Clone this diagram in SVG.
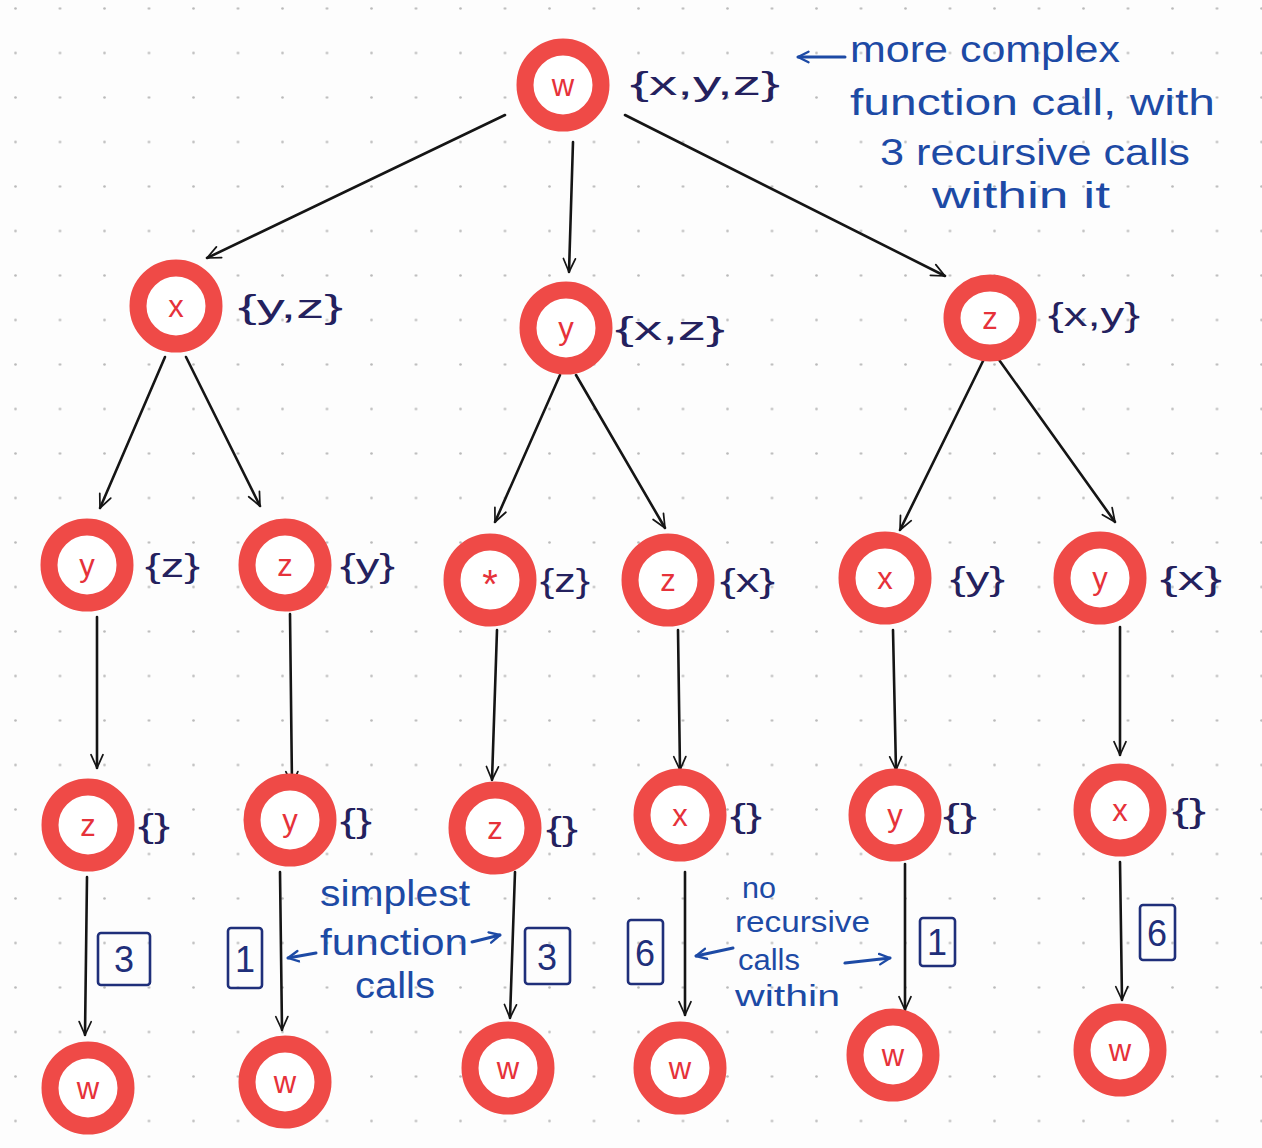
<svg xmlns="http://www.w3.org/2000/svg" width="1262" height="1148" viewBox="0 0 1262 1148">
  <defs>
    <pattern id="dots" x="14" y="7" width="44.5" height="44.5" patternUnits="userSpaceOnUse">
      <circle cx="1.5" cy="1.5" r="1.3" fill="#b9b9b9"/>
    </pattern>
    <marker id="arr" viewBox="0 0 12 12" refX="11" refY="6" markerWidth="16" markerHeight="16" orient="auto" markerUnits="userSpaceOnUse">
      <path d="M1,1.5 L11,6 L1,10.5" fill="none" stroke="#151515" stroke-width="1.3" stroke-linecap="round" stroke-linejoin="round"/>
    </marker>
    <marker id="barr" viewBox="0 0 12 12" refX="10" refY="6" markerWidth="14" markerHeight="14" orient="auto" markerUnits="userSpaceOnUse">
      <path d="M1,1.5 L10,6 L1,10.5" fill="none" stroke="#1d4aa5" stroke-width="2" stroke-linecap="round" stroke-linejoin="round"/>
    </marker>
    <style>
      .ring { fill: #ffffff; stroke: #ef4a47; stroke-width: 17; }
      .let { font-family: "Liberation Sans", Arial, sans-serif; font-size: 31px; fill: #e6323a; text-anchor: middle; }
      .set { font-family: "Liberation Sans", Arial, sans-serif; font-size: 34px; fill: #24215e; }
      .note { font-family: "Liberation Sans", Arial, sans-serif; font-size: 36px; fill: #1d4aa5; }
      .small { font-size: 30px; }
      .edge { fill: none; stroke: #151515; stroke-width: 2.6; stroke-linecap: round; marker-end: url(#arr); }
      .bline { fill: none; stroke: #1d4aa5; stroke-width: 3; stroke-linecap: round; marker-end: url(#barr); }
      .box { fill: none; stroke: #1f2f7a; stroke-width: 2.6; }
      .num { font-family: "Liberation Sans", Arial, sans-serif; font-size: 36px; fill: #1f2f7a; text-anchor: middle; }
    </style>
  </defs>

  <!-- dotted notebook paper -->
  <rect width="1262" height="1148" fill="#fdfdfd"/>
  <rect width="1262" height="1148" fill="url(#dots)"/>

  <!-- call edges -->
  <g id="connectors">
    <path class="edge" d="M505,115 L207,258"/>
    <path class="edge" d="M573,142 L569,272"/>
    <path class="edge" d="M625,115 L945,276"/>

    <path class="edge" d="M165,357 L100,508"/>
    <path class="edge" d="M186,357 L260,506"/>
    <path class="edge" d="M560,375 L495,522"/>
    <path class="edge" d="M576,375 L665,528"/>
    <path class="edge" d="M985,357 L900,530"/>
    <path class="edge" d="M997,357 L1115,522"/>

    <path class="edge" d="M97,617 L97,768"/>
    <path class="edge" d="M290,614 L292,785"/>
    <path class="edge" d="M497,630 L492,780"/>
    <path class="edge" d="M678,630 L680,770"/>
    <path class="edge" d="M893,630 L896,770"/>
    <path class="edge" d="M1120,627 L1120,755"/>

    <path class="edge" d="M87,877 L85,1035"/>
    <path class="edge" d="M280,872 L282,1030"/>
    <path class="edge" d="M515,872 L510,1018"/>
    <path class="edge" d="M685,872 L685,1015"/>
    <path class="edge" d="M905,864 L905,1010"/>
    <path class="edge" d="M1120,862 L1122,1000"/>
  </g>

  <!-- root call -->
  <g id="n-w0"><circle class="ring" cx="563" cy="85" r="38"/><text class="let" x="563" y="96">w</text>
    <text class="set" x="630" y="95" textLength="150" lengthAdjust="spacingAndGlyphs">{x,y,z}</text></g>

  <!-- depth 1 -->
  <g id="n-x1"><circle class="ring" cx="176" cy="306" r="38"/><text class="let" x="176" y="317">x</text>
    <text class="set" x="238" y="318" textLength="105" lengthAdjust="spacingAndGlyphs">{y,z}</text></g>
  <g id="n-y1"><circle class="ring" cx="566" cy="328" r="38"/><text class="let" x="566" y="339">y</text>
    <text class="set" x="615" y="340" textLength="110" lengthAdjust="spacingAndGlyphs">{x,z}</text></g>
  <g id="n-z1"><ellipse class="ring" cx="990" cy="318" rx="38" ry="35"/><text class="let" x="990" y="329">z</text>
    <text class="set" x="1048" y="326" textLength="92" lengthAdjust="spacingAndGlyphs">{x,y}</text></g>

  <!-- depth 2 -->
  <g id="n-y2a"><circle class="ring" cx="87" cy="565" r="38"/><text class="let" x="87" y="576">y</text>
    <text class="set" x="145" y="577" textLength="55" lengthAdjust="spacingAndGlyphs">{z}</text></g>
  <g id="n-z2b"><circle class="ring" cx="285" cy="565" r="38"/><text class="let" x="285" y="576">z</text>
    <text class="set" x="340" y="577" textLength="55" lengthAdjust="spacingAndGlyphs">{y}</text></g>
  <g id="n-x2c"><circle class="ring" cx="490" cy="580" r="38"/><text class="let" x="490" y="598" style="font-size:40px">*</text>
    <text class="set" x="540" y="592" textLength="50" lengthAdjust="spacingAndGlyphs">{z}</text></g>
  <g id="n-z2d"><circle class="ring" cx="668" cy="580" r="38"/><text class="let" x="668" y="591">z</text>
    <text class="set" x="720" y="592" textLength="55" lengthAdjust="spacingAndGlyphs">{x}</text></g>
  <g id="n-x2e"><circle class="ring" cx="885" cy="578" r="38"/><text class="let" x="885" y="589">x</text>
    <text class="set" x="950" y="590" textLength="55" lengthAdjust="spacingAndGlyphs">{y}</text></g>
  <g id="n-y2f"><circle class="ring" cx="1100" cy="578" r="38"/><text class="let" x="1100" y="589">y</text>
    <text class="set" x="1160" y="590" textLength="62" lengthAdjust="spacingAndGlyphs">{x}</text></g>

  <!-- depth 3 -->
  <g id="n-z3a"><circle class="ring" cx="88" cy="825" r="38"/><text class="let" x="88" y="836">z</text>
    <text class="set" x="138" y="837" textLength="32" lengthAdjust="spacingAndGlyphs">{}</text></g>
  <g id="n-y3b"><circle class="ring" cx="290" cy="820" r="38"/><text class="let" x="290" y="831">y</text>
    <text class="set" x="340" y="832" textLength="32" lengthAdjust="spacingAndGlyphs">{}</text></g>
  <g id="n-z3c"><circle class="ring" cx="495" cy="828" r="38"/><text class="let" x="495" y="839">z</text>
    <text class="set" x="546" y="840" textLength="32" lengthAdjust="spacingAndGlyphs">{}</text></g>
  <g id="n-x3d"><circle class="ring" cx="680" cy="815" r="38"/><text class="let" x="680" y="826">x</text>
    <text class="set" x="730" y="827" textLength="32" lengthAdjust="spacingAndGlyphs">{}</text></g>
  <g id="n-y3e"><circle class="ring" cx="895" cy="815" r="38"/><text class="let" x="895" y="826">y</text>
    <text class="set" x="943" y="827" textLength="34" lengthAdjust="spacingAndGlyphs">{}</text></g>
  <g id="n-x3f"><circle class="ring" cx="1120" cy="810" r="38"/><text class="let" x="1120" y="821">x</text>
    <text class="set" x="1172" y="822" textLength="34" lengthAdjust="spacingAndGlyphs">{}</text></g>

  <!-- leaves -->
  <g id="n-w4a"><circle class="ring" cx="88" cy="1088" r="38"/><text class="let" x="88" y="1099">w</text></g>
  <g id="n-w4b"><circle class="ring" cx="285" cy="1082" r="38"/><text class="let" x="285" y="1093">w</text></g>
  <g id="n-w4c"><circle class="ring" cx="508" cy="1068" r="38"/><text class="let" x="508" y="1079">w</text></g>
  <g id="n-w4d"><circle class="ring" cx="680" cy="1068" r="38"/><text class="let" x="680" y="1079">w</text></g>
  <g id="n-w4e"><circle class="ring" cx="893" cy="1055" r="38"/><text class="let" x="893" y="1066">w</text></g>
  <g id="n-w4f"><circle class="ring" cx="1120" cy="1050" r="38"/><text class="let" x="1120" y="1061">w</text></g>

  <!-- result boxes on the last edges -->
  <g id="results">
    <rect class="box" x="98" y="933" width="52" height="52" rx="3"/><text class="num" x="124" y="972">3</text>
    <rect class="box" x="228" y="928" width="34" height="60" rx="3"/><text class="num" x="245" y="972">1</text>
    <rect class="box" x="525" y="928" width="45" height="56" rx="3"/><text class="num" x="547" y="970">3</text>
    <rect class="box" x="628" y="920" width="35" height="64" rx="3"/><text class="num" x="645" y="966">6</text>
    <rect class="box" x="920" y="918" width="35" height="48" rx="3"/><text class="num" x="937" y="955">1</text>
    <rect class="box" x="1140" y="905" width="35" height="55" rx="3"/><text class="num" x="1157" y="946">6</text>
  </g>

  <!-- notes -->
  <g id="note-complex">
    <path class="bline" d="M845,57 L798,57"/>
    <text class="note" x="850" y="62" textLength="270" lengthAdjust="spacingAndGlyphs">more complex</text>
    <text class="note" x="850" y="115" textLength="365" lengthAdjust="spacingAndGlyphs">function call, with</text>
    <text class="note" x="880" y="165" textLength="310" lengthAdjust="spacingAndGlyphs">3 recursive calls</text>
    <text class="note" x="932" y="208" textLength="178" lengthAdjust="spacingAndGlyphs">within it</text>
  </g>
  <g id="note-simplest">
    <text class="note" x="320" y="906" textLength="150" lengthAdjust="spacingAndGlyphs">simplest</text>
    <path class="bline" d="M316,953 L288,958"/>
    <text class="note" x="320" y="955" textLength="148" lengthAdjust="spacingAndGlyphs">function</text>
    <path class="bline" d="M472,942 L500,935"/>
    <text class="note" x="355" y="998" textLength="80" lengthAdjust="spacingAndGlyphs">calls</text>
  </g>
  <g id="note-norecursion">
    <text class="note small" x="742" y="898" textLength="34" lengthAdjust="spacingAndGlyphs">no</text>
    <path class="bline" d="M733,948 L696,956"/>
    <text class="note small" x="735" y="932" textLength="135" lengthAdjust="spacingAndGlyphs">recursive</text>
    <text class="note small" x="738" y="970" textLength="62" lengthAdjust="spacingAndGlyphs">calls</text>
    <path class="bline" d="M845,963 L890,958"/>
    <text class="note small" x="735" y="1006" textLength="105" lengthAdjust="spacingAndGlyphs">within</text>
  </g>
</svg>
